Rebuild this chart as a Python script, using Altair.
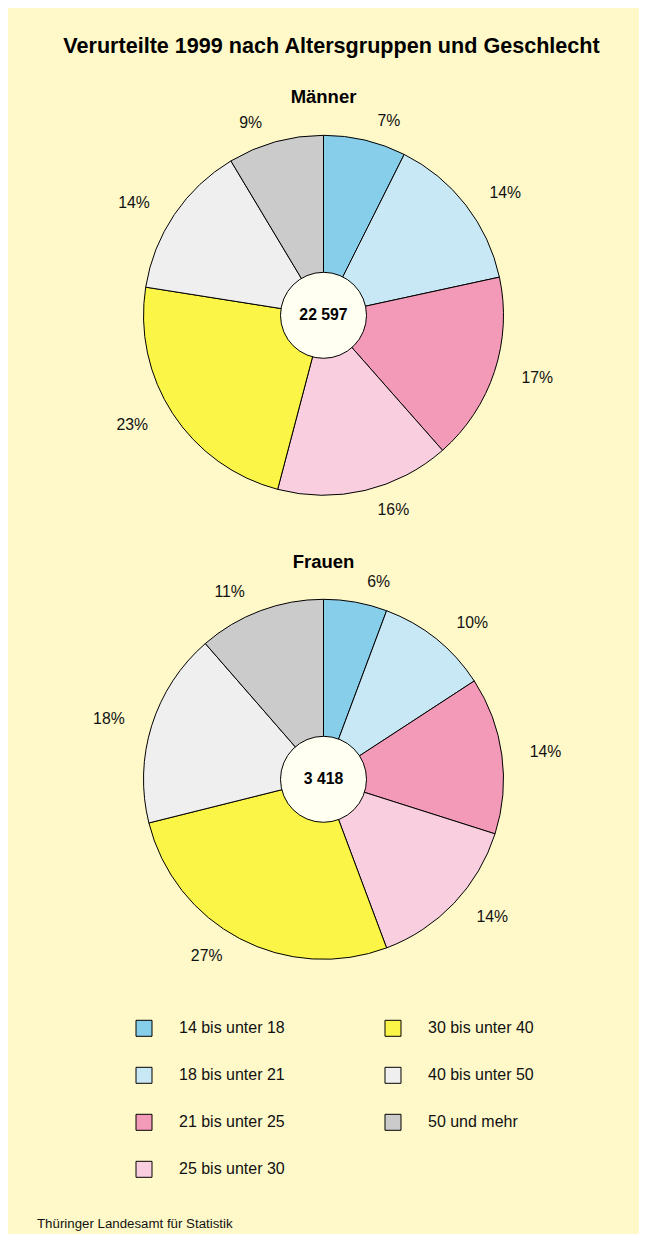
import altair as alt
import pandas as pd

categories = ["14 bis unter 18", "18 bis unter 21", "21 bis unter 25", "25 bis unter 30",
              "30 bis unter 40", "40 bis unter 50", "50 und mehr"]
maenner_share = [7.4, 14.2, 16.9, 15.6, 23.4, 13.9, 8.6]
frauen_share = [5.7, 10.1, 14.1, 14.4, 26.8, 17.5, 11.4]
groups = ["Männer", "Frauen"]
totals = [22597, 3418]
colors = ["#87CEEB", "#C8E8F5", "#F49AB9", "#F9CFDF", "#FAF546", "#EFEFEF", "#CBCBCB"]

FONT = "Liberation Sans"
BG = "#FFF9C9"
LABEL_SIZE = 15.8

color_scale = alt.Scale(domain=categories, range=colors)


def pie(name, shares, total, height, title_offset):
    df = pd.DataFrame({
        "cat": categories,
        "share": shares,
        "idx": list(range(len(categories))),
        "label": [f"{round(s)}%" for s in shares],
    })
    tot = pd.DataFrame({"t": [f"{total:,}".replace(",", " ")]})
    arcs = alt.Chart(df).mark_arc(radius=180, stroke="black", strokeWidth=1).encode(
        theta=alt.Theta("share:Q", stack=True),
        order=alt.Order("idx:Q"),
        color=alt.Color("cat:N", scale=color_scale, legend=None),
    )
    half = LABEL_SIZE / 2
    labels = alt.Chart(df).transform_joinaggregate(
        tot="sum(share)"
    ).transform_window(
        cum="sum(share)", sort=[alt.SortField("idx")], frame=[None, 0]
    ).transform_calculate(
        mid="(datum.cum - datum.share / 2) / datum.tot * 2 * PI"
    ).transform_calculate(
        hw=f"(length(datum.label) - 1) * 0.556 * {half} + 0.889 * {half} + 8",
        s="sin(datum.mid)",
        c="cos(datum.mid)",
    ).transform_calculate(
        px="200 * datum.s + (datum.s >= 0 ? datum.hw : -datum.hw)",
        py="-200 * datum.c",
    ).transform_calculate(
        ta="atan2(datum.px, -datum.py)",
        rt="sqrt(datum.px * datum.px + datum.py * datum.py)",
    ).mark_text(font=FONT, fontSize=LABEL_SIZE, color="#111111", baseline="middle").encode(
        theta=alt.Theta("ta:Q", scale=None, stack=False),
        radius=alt.Radius("rt:Q", scale=None),
        text="label:N",
    )
    inner = alt.Chart(tot).mark_arc(
        radius=43, theta=0, theta2=6.2832, stroke="black", strokeWidth=1
    ).encode(color=alt.value("#FFFFF2"))
    center = alt.Chart(tot).mark_text(
        font=FONT, fontSize=15.8, fontWeight="bold", color="black"
    ).encode(text="t:N")
    return alt.layer(arcs, labels, inner, center).resolve_scale(
        theta="independent", radius="independent"
    ).properties(
        width=631, height=height,
        title=alt.TitleParams(name, fontSize=18.5, font=FONT, fontWeight="bold",
                              anchor="middle", offset=title_offset, color="black"),
    )


p1 = pie(groups[0], maenner_share, totals[0], 400, 6)
p2 = pie(groups[1], frauen_share, totals[1], 400, 3)

leg_df = pd.DataFrame({
    "cat": categories,
    "col": [i // 4 for i in range(len(categories))],
    "row": [i % 4 for i in range(len(categories))],
})
lbase = alt.Chart(leg_df).encode(
    x=alt.X("col:Q", scale=alt.Scale(domain=[0, 1], range=[136, 385]), axis=None),
    y=alt.Y("row:Q", scale=alt.Scale(domain=[0, 3], range=[-15, 126]), axis=None),
)
squares = lbase.mark_square(size=256, stroke="black", strokeWidth=1, opacity=1).encode(
    color=alt.Color("cat:N", scale=color_scale, legend=None)
)
ltext = lbase.mark_text(align="left", dx=35, baseline="middle", font=FONT,
                        fontSize=16, color="#111111").encode(text="cat:N")
footer = alt.Chart(pd.DataFrame({"t": ["Thüringer Landesamt für Statistik"]})).mark_text(
    align="left", baseline="middle", font=FONT, fontSize=13.3, color="#111111"
).encode(x=alt.value(29), y=alt.value(181), text="t:N")
legend = alt.layer(squares, ltext, footer).properties(width=631, height=170)

chart = alt.vconcat(p1, p2, legend, spacing=64, bounds="flush").properties(
    title=alt.TitleParams("Verurteilte 1999 nach Altersgruppen und Geschlecht",
                          fontSize=21.6, font=FONT, fontWeight="bold", anchor="middle",
                          offset=30.7, dx=8, color="black"),
    padding={"left": 0, "right": 0, "top": 27.3, "bottom": 3},
    background=BG,
).configure_view(stroke=None)

chart.save("out.html", embed_options={"renderer": "svg", "actions": False})
